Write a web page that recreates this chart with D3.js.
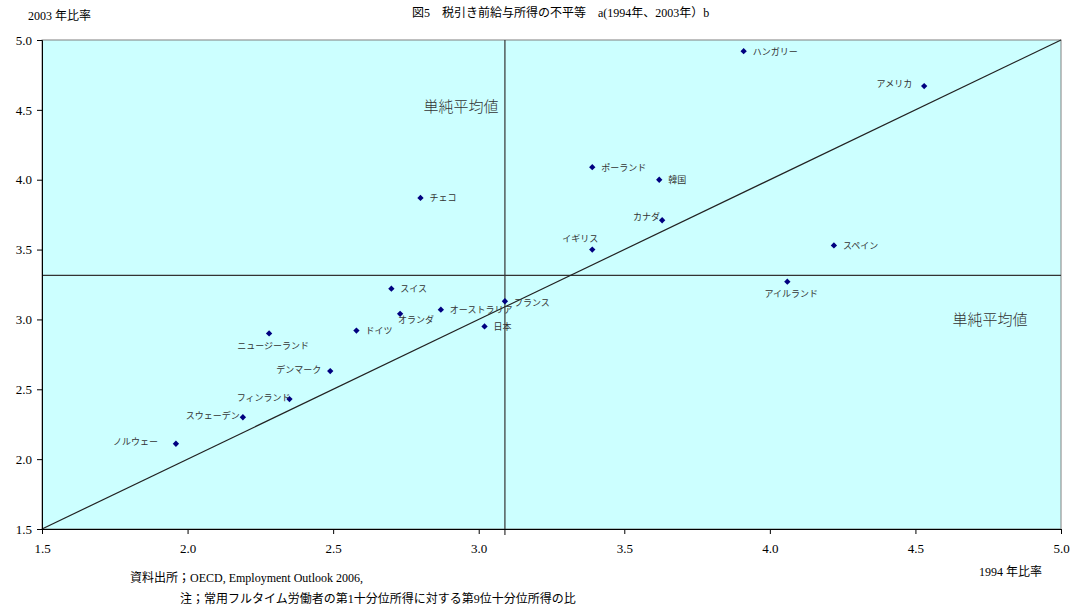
<!DOCTYPE html>
<html><head><meta charset="utf-8">
<script src="https://cdn.jsdelivr.net/npm/d3@7"></script>
<style>
body{margin:0;background:#fff;}
svg{display:block;}
.serif{font-family:"Liberation Serif","Noto Sans CJK JP",serif;}
.tick text{font-family:"Liberation Serif",serif !important;}
</style></head>
<body>
<svg id="c" width="1075" height="611"></svg>
<script>
const countries = ["ハンガリー","アメリカ","ポーランド","韓国","カナダ","イギリス","スペイン","アイルランド","チェコ","スイス","フランス","オランダ","オーストラリア","日本","ドイツ","ニュージーランド","デンマーク","フィンランド","スウェーデン","ノルウェー"];
const ratio1994 = [3.91,4.53,3.39,3.62,3.63,3.39,4.22,4.06,2.80,2.70,3.09,2.73,2.87,3.02,2.58,2.28,2.49,2.35,2.19,1.96];
const ratio2003 = [4.92,4.67,4.09,4.00,3.71,3.50,3.53,3.27,3.87,3.22,3.13,3.04,3.07,2.95,2.92,2.90,2.63,2.43,2.30,2.11];
// label placement: r=right, l=left, a=above, b=below
const labelPos = ["r","l","r","r","l","a","r","b","r","r","r","b2","r","r","r","b","l","l","l","l"];
const xTicks = [1.5,2.0,2.5,3.0,3.5,4.0,4.5,5.0];
const yTicks = [1.5,2.0,2.5,3.0,3.5,4.0,4.5,5.0];
const mean1994 = 3.09;
const mean2003 = 3.315;

const svg = d3.select("#c");
const L=42, R=1061, T=40, B=529;
const x = d3.scaleLinear().domain([1.5,5.0]).range([L,R]);
const y = d3.scaleLinear().domain([1.5,5.0]).range([B,T]);

svg.append("rect").attr("x",L).attr("y",T).attr("width",R-L).attr("height",B-T)
  .attr("fill","#ccffff").attr("stroke","#808080").attr("stroke-width",1);

// mean lines
svg.append("line").attr("x1",x(mean1994)).attr("x2",x(mean1994)).attr("y1",T).attr("y2",B+6)
  .attr("stroke","#333").attr("stroke-width",1.2);
svg.append("line").attr("x1",L).attr("x2",R).attr("y1",y(mean2003)).attr("y2",y(mean2003))
  .attr("stroke","#333").attr("stroke-width",1.2);
// 45-degree line
svg.append("line").attr("x1",x(1.5)).attr("y1",y(1.5)).attr("x2",x(5)).attr("y2",y(5))
  .attr("stroke","#222").attr("stroke-width",1.2);

// axes
const xa = svg.append("g").attr("transform",`translate(0,${B})`)
  .call(d3.axisBottom(x).tickValues(xTicks).tickFormat(d3.format(".1f")).tickSizeOuter(0).tickSize(5).tickPadding(10));
const ya = svg.append("g").attr("transform",`translate(${L},0)`)
  .call(d3.axisLeft(y).tickValues(yTicks).tickFormat(d3.format(".1f")).tickSizeOuter(0).tickSize(5).tickPadding(5));
[xa,ya].forEach(g=>{
  g.attr("font-family","Liberation Serif, serif").attr("font-size",13);
  g.selectAll("text").style("font-family","'Liberation Serif', serif").attr("font-size",13).attr("fill","#000");
  g.selectAll("line").attr("stroke","#000");
  g.select(".domain").attr("stroke","#000");
});

// points
const sym = d3.symbol().type(d3.symbolSquare).size(20);
const data = countries.map((c,i)=>({c, x:ratio1994[i], y:ratio2003[i], p:labelPos[i]}));
svg.append("g").selectAll("path").data(data).join("path")
  .attr("transform",d=>`translate(${x(d.x)},${y(d.y)}) rotate(45)`).attr("d",sym).attr("fill","#000080");

const lab = svg.append("g").attr("font-family","Noto Sans CJK JP, sans-serif").attr("font-size",9).attr("fill","#333");
data.forEach(d=>{
  const px=x(d.x), py=y(d.y);
  let t = lab.append("text").text(d.c).attr("dominant-baseline","central");
  if(d.p==="r"){ t.attr("x",px+9).attr("y",py); }
  else if(d.p==="l"){ t.attr("x",px-9).attr("y",py-2).attr("text-anchor","end"); }
  else if(d.p==="a"){ t.attr("x",px+6).attr("y",py-11).attr("text-anchor","end"); }
  else if(d.p==="b"){ t.attr("x",px+4).attr("y",py+12).attr("text-anchor","middle"); }
  else if(d.p==="b2"){ t.attr("x",px-2).attr("y",py+6); }
});
lab.selectAll("text").filter(function(){return this.textContent==="フランス";}).attr("x",x(3.09)+9).attr("y",y(3.13)+1);
lab.selectAll("text").filter(function(){return this.textContent==="フィンランド";}).attr("x",x(2.35)+1);
lab.selectAll("text").filter(function(){return this.textContent==="スウェーデン";}).attr("x",x(2.19)-3);
lab.selectAll("text").filter(function(){return this.textContent==="カナダ";}).attr("x",x(3.63)-2).attr("y",y(3.71)-4);
lab.selectAll("text").filter(function(){return this.textContent==="ノルウェー";}).attr("x",x(1.96)-18);
lab.selectAll("text").filter(function(){return this.textContent==="アメリカ";}).attr("x",x(4.53)-12).attr("y",y(4.67)-3);

// mean labels
svg.append("text").attr("x",461).attr("y",105).attr("text-anchor","middle").attr("dominant-baseline","central")
  .attr("font-family","Noto Sans CJK JP, sans-serif").attr("font-size",15).attr("font-weight",300).attr("fill","#333").text("単純平均値");
svg.append("text").attr("x",990).attr("y",318).attr("text-anchor","middle").attr("dominant-baseline","central")
  .attr("font-family","Noto Sans CJK JP, sans-serif").attr("font-size",15).attr("font-weight",300).attr("fill","#333").text("単純平均値");

// titles
svg.append("text").attr("class","serif").attr("x",412).attr("y",13).attr("dominant-baseline","central")
  .attr("font-size",12).attr("fill","#000").text("図5　税引き前給与所得の不平等　a(1994年、2003年）b");
svg.append("text").attr("class","serif").attr("x",28).attr("y",16).attr("dominant-baseline","central")
  .attr("font-size",12).attr("fill","#000").text("2003 年比率");
svg.append("text").attr("class","serif").attr("x",1042).attr("y",572).attr("text-anchor","end").attr("dominant-baseline","central")
  .attr("font-size",12).attr("fill","#000").text("1994 年比率");
svg.append("text").attr("class","serif").attr("x",130).attr("y",578).attr("dominant-baseline","central")
  .attr("font-size",12).attr("fill","#000").text("資料出所；OECD, Employment Outlook 2006,");
svg.append("text").attr("class","serif").attr("x",180).attr("y",599).attr("dominant-baseline","central")
  .attr("font-size",12).attr("fill","#000").text("注；常用フルタイム労働者の第1十分位所得に対する第9位十分位所得の比");
</script>
</body></html>
